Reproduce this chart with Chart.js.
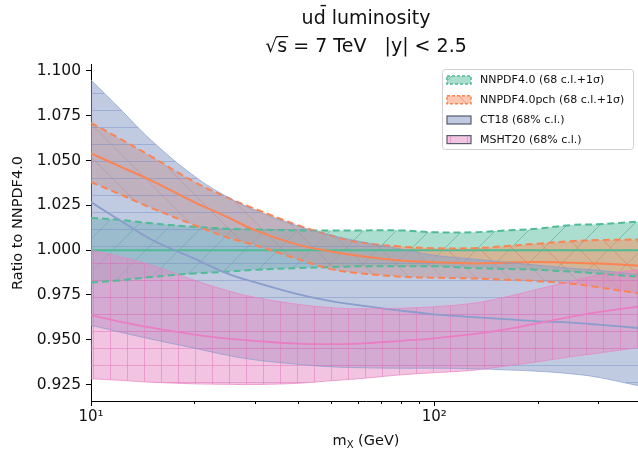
<!DOCTYPE html>
<html>
<head>
<meta charset="utf-8">
<title>ud luminosity ratio</title>
<script src="https://cdn.jsdelivr.net/npm/chart.js@4.4.1/dist/chart.umd.min.js"></script>
<style>
  html, body { margin: 0; padding: 0; background: #fff; overflow: hidden; }
  #frame { width: 638px; height: 451px; overflow: hidden; }
</style>
</head>
<body>
<div id="frame"><canvas id="lumi" width="660" height="451"></canvas></div>
<script>
// invariant mass grid (GeV)
const massGrid = [10, 12, 15, 20, 25, 30, 40, 50, 60, 80, 100, 130, 160, 200, 250, 300, 400];

// NNPDF4.0 (68 c.l.+1sigma), normalised to itself
const nnpdfLow  = [0.982, 0.983, 0.985, 0.987, 0.988, 0.989, 0.990, 0.9905, 0.991, 0.991, 0.991, 0.990, 0.9895, 0.989, 0.988, 0.987, 0.985];
const nnpdfMid  = [1.000, 1.000, 1.000, 1.000, 1.000, 1.000, 1.000, 1.000, 1.000, 1.000, 1.000, 1.000, 1.000, 1.000, 1.000, 1.000, 1.000];
const nnpdfHigh = [1.018, 1.017, 1.015, 1.013, 1.012, 1.0115, 1.011, 1.011, 1.011, 1.011, 1.010, 1.010, 1.011, 1.012, 1.014, 1.0145, 1.016];

// NNPDF4.0pch
const pchLow  = [1.038, 1.0316, 1.0235, 1.014, 1.007, 1.0028, 0.995, 0.9894, 0.9872, 0.9852, 0.9846, 0.9842, 0.9835, 0.9827, 0.9813, 0.9793, 0.9757];
const pchMid  = [1.054, 1.0472, 1.0388, 1.0268, 1.0184, 1.0112, 1.0031, 0.9993, 0.9969, 0.9942, 0.9933, 0.9926, 0.993, 0.9934, 0.993, 0.9925, 0.9913];
const pchHigh = [1.071, 1.0628, 1.0522, 1.0381, 1.0293, 1.0231, 1.0139, 1.0082, 1.0045, 1.002, 1.0011, 1.0011, 1.0022, 1.0036, 1.005, 1.0056, 1.006];

// CT18 (68% c.l.)
const ct18Low  = [0.9581, 0.9545, 0.9503, 0.9453, 0.9413, 0.9388, 0.9363, 0.9349, 0.9344, 0.9341, 0.9341, 0.9338, 0.9332, 0.9324, 0.931, 0.929, 0.924];
const ct18Mid  = [1.0268, 1.0173, 1.0059, 0.9953, 0.9869, 0.9821, 0.9754, 0.9715, 0.9693, 0.9662, 0.9642, 0.9626, 0.9615, 0.9603, 0.9595, 0.9584, 0.9564];
const ct18High = [1.095, 1.0799, 1.0612, 1.0413, 1.0296, 1.0223, 1.0134, 1.0084, 1.005, 1.0006, 0.9972, 0.995, 0.9933, 0.9916, 0.9899, 0.9888, 0.9862];

// MSHT20 (68% c.l.)
const mshtLow  = [0.9282, 0.9274, 0.9263, 0.9254, 0.9251, 0.925, 0.9257, 0.9271, 0.9282, 0.9304, 0.9316, 0.933, 0.9352, 0.9377, 0.9405, 0.9425, 0.9458];
const mshtMid  = [0.9637, 0.9603, 0.9567, 0.9528, 0.9506, 0.9494, 0.9478, 0.9475, 0.9478, 0.9494, 0.9508, 0.9531, 0.9556, 0.9592, 0.9628, 0.9654, 0.9687];
const mshtHigh = [1.000, 0.9966, 0.9916, 0.9832, 0.9774, 0.9737, 0.9698, 0.9679, 0.9673, 0.9676, 0.9684, 0.9704, 0.9737, 0.9782, 0.9827, 0.986, 0.9894];

const yTickValues = [0.925, 0.950, 0.975, 1.000, 1.025, 1.050, 1.075, 1.100];
const xTickValues = [10, 20, 30, 40, 50, 60, 70, 80, 90, 100, 200, 300, 400];
const xTickLabels = { 10: '10¹', 100: '10²' };

const legendLabels = ['NNPDF4.0 (68 c.l.+1σ)', 'NNPDF4.0pch (68 c.l.+1σ)', 'CT18 (68% c.l.)', 'MSHT20 (68% c.l.)'];

const FONT = "'DejaVu Sans', sans-serif";
const canvas = document.getElementById('lumi');
const ctx = canvas.getContext('2d');

// translucent fill with matplotlib-like hatching baked in
function hatch(fill, stroke, kind, size) {
  const c = document.createElement('canvas');
  c.width = size;
  c.height = size;
  const g = c.getContext('2d');
  g.fillStyle = fill;
  g.fillRect(0, 0, size, size);
  g.strokeStyle = stroke;
  g.lineWidth = 1;
  g.beginPath();
  if (kind === '-' || kind === '+') {
    g.moveTo(0, size / 2); g.lineTo(size, size / 2);
  }
  if (kind === '+') {
    g.moveTo(size / 2, 0); g.lineTo(size / 2, size);
  }
  if (kind === '/') {
    g.moveTo(-1, size + 1); g.lineTo(size + 1, -1);
    g.moveTo(-1, 1); g.lineTo(1, -1);
    g.moveTo(size - 1, size + 1); g.lineTo(size + 1, size - 1);
  }
  if (kind === '\\') {
    g.moveTo(-1, -1); g.lineTo(size + 1, size + 1);
    g.moveTo(size - 1, -1); g.lineTo(size + 1, 1);
    g.moveTo(-1, size - 1); g.lineTo(1, size + 1);
  }
  g.stroke();
  return ctx.createPattern(c, 'repeat');
}

const styles = [
  { fill: hatch('rgba(102,194,165,0.55)', 'rgba(60,150,120,0.45)', '/', 33),
    edge: '#4fbc95', line: '#4fbc95', dash: [7, 4], edgeWidth: 2, lineWidth: 2 },
  { fill: hatch('rgba(252,141,98,0.5)', 'rgba(220,110,70,0.45)', '\\', 33),
    edge: '#fb8454', line: '#fb8454', dash: [7, 4], edgeWidth: 2, lineWidth: 2 },
  { fill: hatch('rgba(141,160,203,0.55)', 'rgba(120,140,195,0.45)', '-', 17),
    edge: 'rgba(135,155,202,0.7)', line: '#8a9dcc', dash: [], edgeWidth: 1, lineWidth: 1.8 },
  { fill: hatch('rgba(231,138,195,0.5)', 'rgba(225,115,185,0.5)', '+', 17),
    edge: 'rgba(231,130,195,0.7)', line: '#ea7ec2', dash: [], edgeWidth: 1, lineWidth: 1.8 }
];

const bands = [
  [nnpdfLow, nnpdfMid, nnpdfHigh],
  [pchLow, pchMid, pchHigh],
  [ct18Low, ct18Mid, ct18High],
  [mshtLow, mshtMid, mshtHigh]
];

const points = ys => massGrid.map((m, i) => ({ x: m, y: ys[i] }));

const datasets = [];
bands.forEach(([lo, mid, hi], k) => {
  const s = styles[k];
  const common = { pointRadius: 0, tension: 0.4, order: 4 - k };
  datasets.push({ ...common, data: points(lo), borderColor: s.edge, borderWidth: s.edgeWidth, borderDash: s.dash, fill: false });
  datasets.push({ ...common, data: points(hi), borderColor: s.edge, borderWidth: s.edgeWidth, borderDash: s.dash, fill: '-1', backgroundColor: s.fill });
  datasets.push({ ...common, data: points(mid), borderColor: s.line, borderWidth: s.lineWidth, fill: false });
});

// titles, axis labels, minor ticks and the legend box
const decorations = {
  id: 'decorations',
  afterDraw(chart) {
    const { ctx, chartArea: area, scales } = chart;
    const cx = (area.left + area.right) / 2;
    ctx.save();
    ctx.fillStyle = '#111';

    // title
    ctx.font = `19px ${FONT}`;
    ctx.textAlign = 'center';
    ctx.textBaseline = 'middle';
    ctx.fillText('ud\u0304 luminosity', cx, 19);
    const line2 = '√s = 7 TeV   |y| < 2.5';
    const w2 = ctx.measureText(line2).width;
    ctx.fillText(line2, cx, 47);
    const x0 = cx - w2 / 2 + ctx.measureText('√').width;
    ctx.fillRect(x0 - 1, 36, ctx.measureText('s').width + 2, 1.2);

    // x label with subscript
    ctx.textAlign = 'left';
    ctx.textBaseline = 'alphabetic';
    ctx.font = `14.5px ${FONT}`;
    const wm = ctx.measureText('m').width;
    const wRest = ctx.measureText(' (GeV)').width;
    ctx.font = `10px ${FONT}`;
    const wx = ctx.measureText('X').width;
    const start = cx - (wm + wx + wRest) / 2;
    ctx.font = `14.5px ${FONT}`;
    ctx.fillText('m', start, 445);
    ctx.fillText(' (GeV)', start + wm + wx, 445);
    ctx.font = `10px ${FONT}`;
    ctx.fillText('X', start + wm, 448);

    // y label
    ctx.save();
    ctx.translate(18, 223);
    ctx.rotate(-Math.PI / 2);
    ctx.textAlign = 'center';
    ctx.textBaseline = 'middle';
    ctx.font = `14.5px ${FONT}`;
    ctx.fillText('Ratio to NNPDF4.0', 0, 0);
    ctx.restore();

    // x tick marks, major and minor
    ctx.strokeStyle = '#000';
    ctx.lineWidth = 1;
    xTickValues.forEach(v => {
      const px = Math.round(scales.x.getPixelForValue(v)) + 0.5;
      const len = xTickLabels[v] ? 5 : 3;
      ctx.beginPath();
      ctx.moveTo(px, area.bottom);
      ctx.lineTo(px, area.bottom + len);
      ctx.stroke();
    });

    // legend
    ctx.fillStyle = 'rgba(255,255,255,0.85)';
    ctx.strokeStyle = '#d0d0d0';
    ctx.beginPath();
    ctx.roundRect(442.5, 69.5, 191, 80, 3);
    ctx.fill();
    ctx.stroke();
    const rows = [80, 99.7, 120, 139.6];
    ctx.font = `11px ${FONT}`;
    ctx.textAlign = 'left';
    ctx.textBaseline = 'middle';
    legendLabels.forEach((label, k) => {
      const s = styles[k];
      const y = rows[k];
      ctx.fillStyle = s.fill;
      ctx.fillRect(447, y - 4, 24, 8);
      ctx.lineWidth = k < 2 ? 1.5 : 1.2;
      ctx.strokeStyle = k < 2 ? s.edge : '#585c70';
      ctx.setLineDash(k < 2 ? [3, 2] : []);
      ctx.strokeRect(447, y - 4, 24, 8);
      ctx.setLineDash([]);
      ctx.fillStyle = '#111';
      ctx.fillText(label, 480, y + 0.5);
    });
    ctx.restore();
  }
};

new Chart(canvas, {
  type: 'line',
  data: { datasets },
  options: {
    responsive: false,
    animation: false,
    layout: { padding: { top: 64, right: 19, left: 0, bottom: 0 } },
    plugins: {
      legend: { display: false },
      tooltip: { enabled: false },
      filler: { drawTime: 'beforeDatasetsDraw' }
    },
    scales: {
      x: {
        type: 'logarithmic',
        min: 10,
        max: 400,
        border: { display: true, color: '#000', width: 1 },
        grid: { display: false, drawTicks: false },
        afterBuildTicks: axis => { axis.ticks = xTickValues.map(v => ({ value: v })); },
        afterFit: axis => { axis.height = 50; },
        ticks: {
          autoSkip: false,
          maxRotation: 0,
          padding: 7,
          color: '#111',
          font: { family: FONT, size: 15 },
          callback: v => xTickLabels[v] || ''
        }
      },
      y: {
        min: 0.9158,
        max: 1.1039,
        border: { display: true, color: '#000', width: 1 },
        grid: { drawOnChartArea: false, drawTicks: true, tickLength: 5, tickColor: '#000' },
        afterBuildTicks: axis => { axis.ticks = yTickValues.map(v => ({ value: v })); },
        afterFit: axis => { axis.width = 91; },
        ticks: {
          padding: 5,
          color: '#111',
          font: { family: FONT, size: 15.5 },
          callback: v => v.toFixed(3)
        }
      }
    }
  },
  plugins: [decorations]
});
</script>
</body>
</html>
